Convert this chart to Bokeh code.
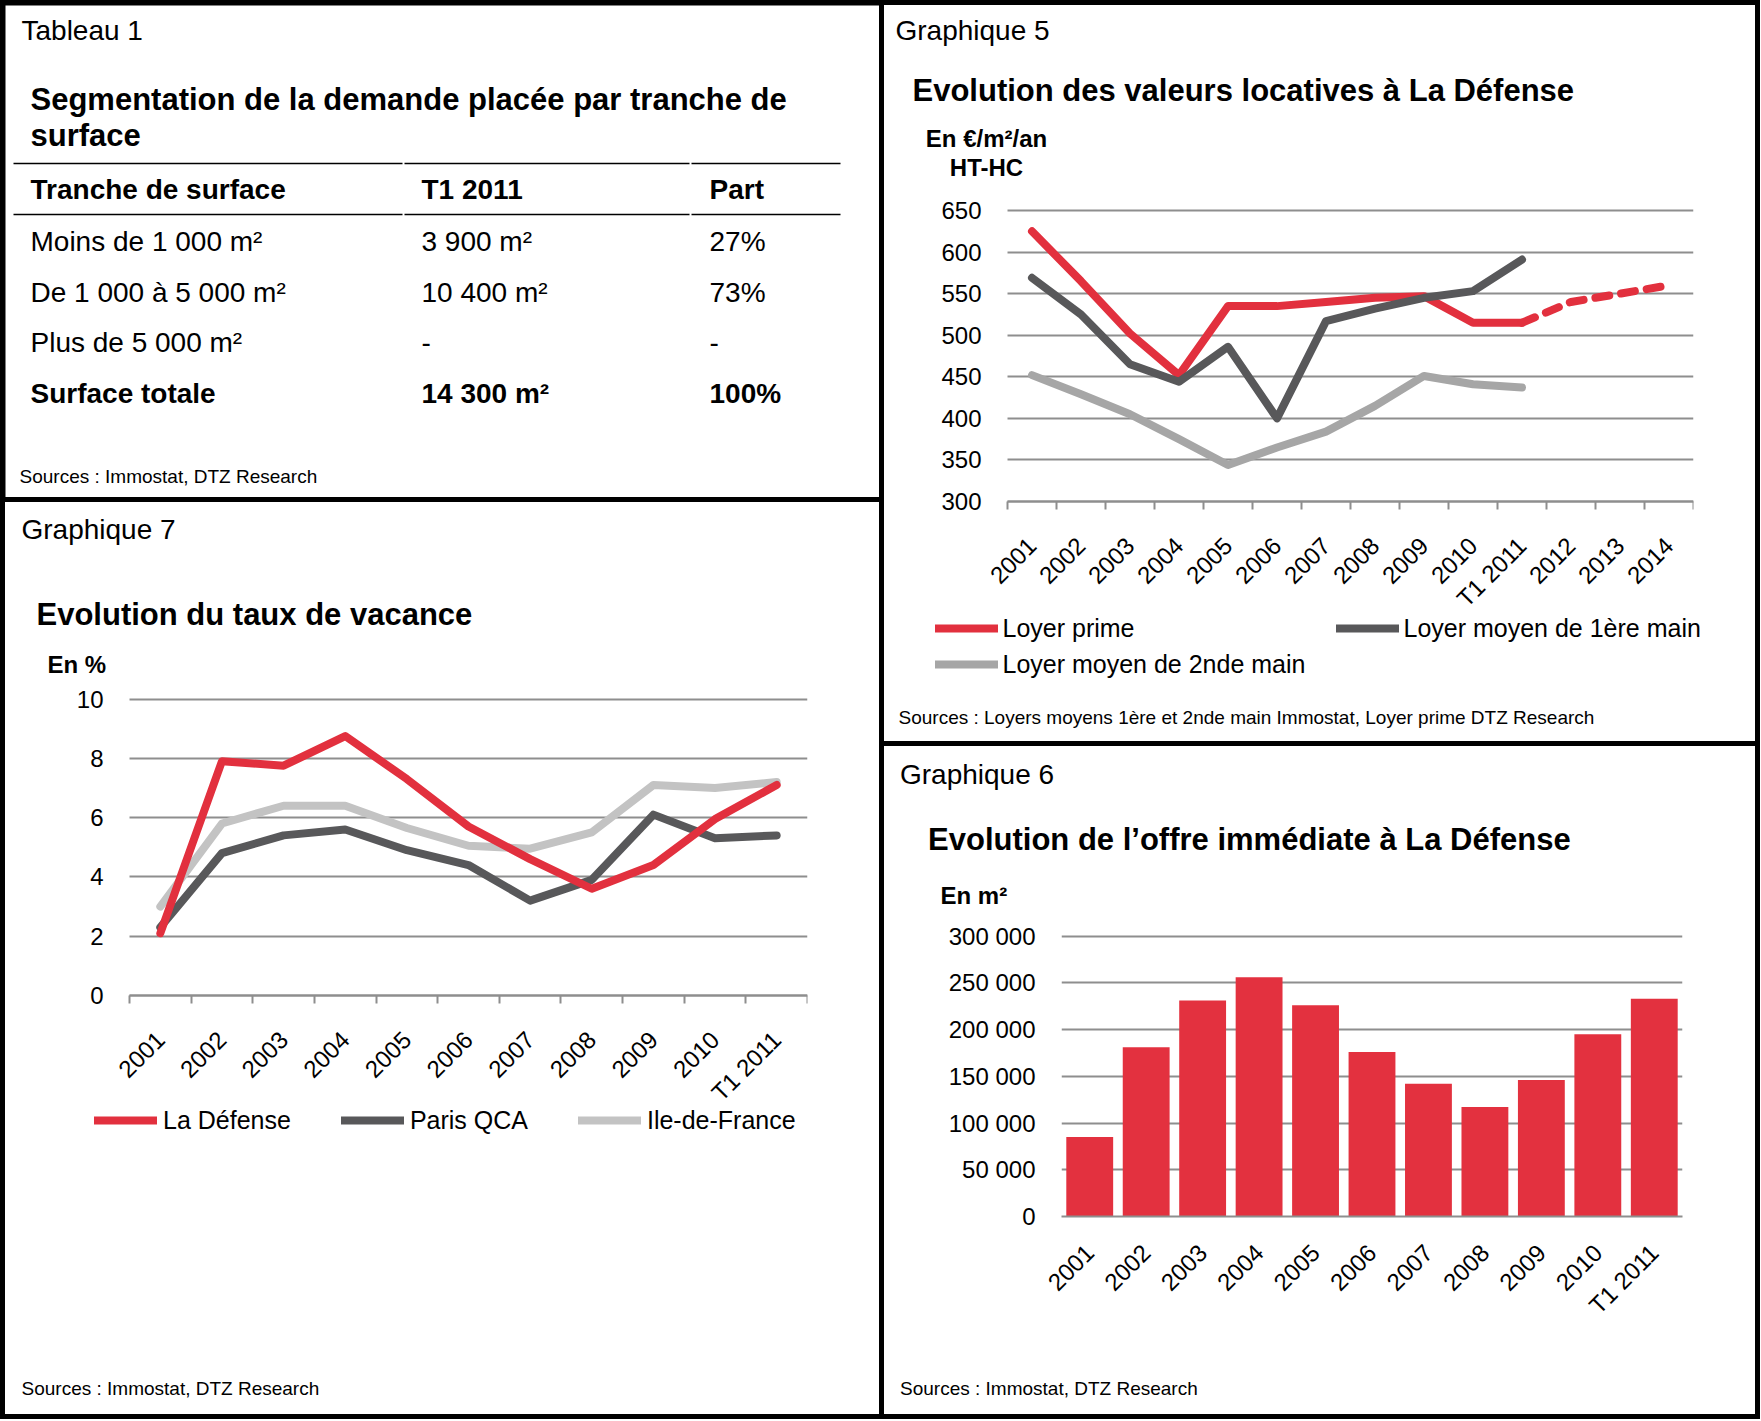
import math
from bokeh.plotting import figure
from bokeh.models import Range1d, FixedTicker, Legend, LegendItem
from bokeh.layouts import row, column
from bokeh.embed import file_html
from bokeh.resources import INLINE
from bokeh.core.properties import value

# ---------------- data ----------------
table_header = ["Tranche de surface", "T1 2011", "Part"]
table_tranches = ["Moins de 1 000 m²", "De 1 000 à 5 000 m²", "Plus de 5 000 m²"]
table_surfaces = ["3 900 m²", "10 400 m²", "-"]
table_parts = ["27%", "73%", "-"]
table_total = ["Surface totale", "14 300 m²", "100%"]

vac_years = ["2001", "2002", "2003", "2004", "2005", "2006", "2007", "2008", "2009", "2010", "T1 2011"]
vac_defense = [2.1, 7.9, 7.75, 8.75, 7.3, 5.7, 4.6, 3.6, 4.4, 5.95, 7.1]
vac_paris = [2.3, 4.8, 5.4, 5.6, 4.9, 4.4, 3.2, 3.9, 6.1, 5.3, 5.4]
vac_idf = [3.0, 5.8, 6.4, 6.4, 5.65, 5.05, 4.95, 5.5, 7.1, 7.0, 7.2]
vac_yticks = [0, 2, 4, 6, 8, 10]

loyer_years = ["2001", "2002", "2003", "2004", "2005", "2006", "2007", "2008", "2009", "2010",
               "T1 2011", "2012", "2013", "2014"]
loyer_prime = [625, 565, 502, 452, 535, 535, 540, 545, 547, 515, 515]
loyer_prime_prev_years = ["T1 2011", "2012", "2013", "2014"]
loyer_prime_prev = [515, 540, 550, 560]
loyer_1ere = [569, 525, 465, 444, 486, 400, 517, 532, 545, 553, 591]
loyer_2nde = [452, 429, 405, 375, 344, 365, 384, 415, 451, 441, 437]
loyer_yticks = [300, 350, 400, 450, 500, 550, 600, 650]

offre_years = ["2001", "2002", "2003", "2004", "2005", "2006", "2007", "2008", "2009", "2010", "T1 2011"]
offre_m2 = [85000, 181000, 231000, 256000, 226000, 176000, 142000, 117000, 146000, 195000, 233000]
offre_yticks = [0, 50000, 100000, 150000, 200000, 250000, 300000]
offre_ytick_labels = ["0", "50 000", "100 000", "150 000", "200 000", "250 000", "300 000"]

# ---------------- style ----------------
FONT = "Liberation Sans"
RED = "#E2303E"
BAR_RED = "#E3313F"
DARK = "#58585A"
LIGHT5 = "#A6A6A6"
LIGHT7 = "#C3C3C3"
GRID = "#8E8E8E"
LW = 8
XLAB_STANDOFF = 32
LEG_H = 30


def text_fig(w, h):
    p = figure(width=w, height=h, x_range=Range1d(0, w), y_range=Range1d(h, 0), title=None,
               x_axis_type=None, y_axis_type=None, output_backend="svg", toolbar_location=None,
               min_border=0, frame_align=False)
    p.outline_line_color = None
    p.border_fill_color = "white"
    p.background_fill_color = "white"
    p.grid.visible = False
    return p


def put(p, xs, ys, texts, size, bold=False, align="left"):
    p.text(x=xs, y=ys, text=texts, text_font=value(FONT), text_font_size=f"{size}px",
           text_font_style="bold" if bold else "normal", text_color="black",
           text_align=align, text_baseline="middle")


def chart_fig(w, h, ml, mr, mt, mb, x_start, nx, y_start, y_end, y_standoff=26):
    p = figure(width=w, height=h, x_range=Range1d(x_start, nx), y_range=Range1d(y_start, y_end),
               title=None, output_backend="svg", toolbar_location=None, frame_align=False,
               min_border_left=ml, min_border_right=mr, min_border_top=mt, min_border_bottom=mb)
    p.outline_line_color = None
    p.background_fill_color = "white"
    p.border_fill_color = "white"
    p.xgrid.visible = False
    p.ygrid.grid_line_color = GRID
    p.ygrid.grid_line_width = 2
    ya = p.yaxis[0]
    ya.axis_line_color = None
    ya.major_tick_line_color = None
    ya.minor_tick_line_color = None
    ya.major_tick_in = 0
    ya.major_tick_out = 0
    ya.minor_tick_in = 0
    ya.minor_tick_out = 0
    ya.major_label_standoff = y_standoff
    ya.major_label_text_font = FONT
    ya.major_label_text_font_size = "24px"
    ya.major_label_text_color = "black"
    xa = p.xaxis[0]
    xa.axis_line_color = GRID
    xa.axis_line_width = 2
    xa.major_tick_line_color = None
    xa.major_tick_in = 0
    xa.major_tick_out = 0
    xa.minor_tick_line_color = GRID
    xa.minor_tick_line_width = 2
    xa.minor_tick_in = 0
    xa.minor_tick_out = 8
    xa.major_label_orientation = math.pi / 4
    xa.major_label_text_font = FONT
    xa.major_label_text_font_size = "24px"
    xa.major_label_text_color = "black"
    xa.major_label_standoff = XLAB_STANDOFF
    return p


def set_x_categories(p, labels, boundary_ticks=True):
    centers = [i + 0.5 for i in range(len(labels))]
    bounds = [float(i) for i in range(len(labels) + 1)] if boundary_ticks else []
    p.xaxis[0].ticker = FixedTicker(ticks=centers, minor_ticks=bounds)
    p.xaxis[0].major_label_overrides = {c: lab for c, lab in zip(centers, labels)}
    return centers


def set_y_ticks(p, ticks, labels=None):
    p.yaxis[0].ticker = FixedTicker(ticks=ticks, minor_ticks=[])
    p.ygrid.ticker = FixedTicker(ticks=ticks, minor_ticks=[])
    if labels is not None:
        p.yaxis[0].major_label_overrides = {t: lab for t, lab in zip(ticks, labels)}


def legend_in(p, fig_h, entries, x_left, y_center, spacing, standoff):
    """entries: (label, color). Legend drawn inside a full-canvas text figure.
    The swatch renderers sit outside the visible range (legend keys only)."""
    items = []
    for lab, col in entries:
        r = p.line(x=[-60, -50], y=[-60, -60], line_color=col, line_width=LW, line_cap="round")
        items.append(LegendItem(label=value(lab), renderers=[r]))
    leg = Legend(items=items, location=(x_left, fig_h - y_center - LEG_H / 2),
                 orientation="horizontal", spacing=spacing,
                 glyph_width=63, glyph_height=LEG_H, label_height=LEG_H,
                 label_standoff=standoff, label_text_font=FONT, label_text_font_size="25px",
                 label_text_color="black", padding=0, margin=0, border_line_color=None,
                 background_fill_alpha=0)
    p.add_layout(leg)


PANEL_STYLE = {"background-color": "white"}

# ---------------- Tableau 1 ----------------
TW, TH = 874, 492
tab = text_fig(TW, TH)
col_x = [25, 416, 704]
put(tab, [16], [25], ["Tableau 1"], 28)
put(tab, [25, 25], [94, 130], ["Segmentation de la demande placée par tranche de", "surface"], 31, bold=True)
put(tab, col_x, [184] * 3, table_header, 28, bold=True)
for i, ry in enumerate([236, 287, 337]):
    put(tab, col_x, [ry] * 3, [table_tranches[i], table_surfaces[i], table_parts[i]], 28)
put(tab, col_x, [388] * 3, table_total, 28, bold=True)
put(tab, [14], [471], ["Sources : Immostat, DTZ Research"], 19)
for (a, b) in [(8, 397), (399, 684), (686, 835)]:
    tab.segment(x0=[a, a], y0=[158, 209], x1=[b, b], y1=[158, 209], line_color="black", line_width=1.5)

# ---------------- Graphique 7 ----------------
W7 = 874
h7 = text_fig(W7, 180)
put(h7, [16], [27], ["Graphique 7"], 28)
put(h7, [31], [112], ["Evolution du taux de vacance"], 31, bold=True)
put(h7, [42], [162], ["En %"], 24, bold=True)

# chart figure spans panel y 180..603; frame x 100..802 (categories start at 124),
# frame y 194..603; y=0 at 493, y=10 at 196.5
n7 = len(vac_years)
px7 = (493 - 196.5) / 10.0
cat7 = (802 - 124) / n7
c7 = chart_fig(W7, 423, 100, 72, 14, 0, -(124 - 100) / cat7, n7,
               -(603 - 493) / px7, 10 + (196.5 - 194) / px7, y_standoff=2)
c7.xaxis[0].fixed_location = 0
c7.xaxis[0].bounds = (0, n7)
c7.ygrid.cross_bounds = (0, n7)
xc7 = set_x_categories(c7, vac_years)
set_y_ticks(c7, vac_yticks)
c7.line(xc7, vac_idf, line_color=LIGHT7, line_width=LW, line_join="round", line_cap="round")
c7.line(xc7, vac_paris, line_color=DARK, line_width=LW, line_join="round", line_cap="round")
c7.line(xc7, vac_defense, line_color=RED, line_width=LW, line_join="round", line_cap="round")

f7 = text_fig(W7, 309)
legend_in(f7, 309, [("La Défense", RED), ("Paris QCA", DARK), ("Ile-de-France", LIGHT7)], 89, 15, 50, 6)
put(f7, [16], [283], ["Sources : Immostat, DTZ Research"], 19)

# ---------------- Graphique 5 ----------------
W5 = 871
h5 = text_fig(W5, 182)
put(h5, [11], [25], ["Graphique 5"], 28)
put(h5, [28], [85], ["Evolution des valeurs locatives à La Défense"], 31, bold=True)
put(h5, [102, 102], [133, 162], ["En €/m²/an", "HT-HC"], 24, bold=True, align="center")

# chart figure spans panel y 182..606; frame x 100..809 (categories start at 123),
# frame y 202..606; 300 at 496, 650 at 205
n5 = len(loyer_years)
px5 = (496 - 205) / 350.0
cat5 = (809 - 123) / n5
c5 = chart_fig(W5, 424, 100, 62, 20, 0, -(123 - 100) / cat5, n5,
               300 - (606 - 496) / px5, 650 + (205 - 202) / px5, y_standoff=3)
c5.xaxis[0].fixed_location = 300
c5.xaxis[0].bounds = (0, n5)
c5.ygrid.cross_bounds = (0, n5)
xc5 = set_x_categories(c5, loyer_years)
set_y_ticks(c5, loyer_yticks)
c5.line(xc5[:len(loyer_2nde)], loyer_2nde, line_color=LIGHT5, line_width=LW,
        line_join="round", line_cap="round")
c5.line(xc5[:len(loyer_prime)], loyer_prime, line_color=RED, line_width=LW,
        line_join="round", line_cap="round")
xprev = [loyer_years.index(y) + 0.5 for y in loyer_prime_prev_years]
c5.line(xprev, loyer_prime_prev, line_color=RED, line_width=LW, line_dash="14 12",
        line_join="round", line_cap="round")
c5.line(xc5[:len(loyer_1ere)], loyer_1ere, line_color=DARK, line_width=LW,
        line_join="round", line_cap="round")

f5 = text_fig(W5, 130)
legend_in(f5, 130, [("Loyer prime", RED), ("Loyer moyen de 1ère main", DARK)], 50.5, 17, 201, 5)
legend_in(f5, 130, [("Loyer moyen de 2nde main", LIGHT5)], 50.5, 53, 10, 5)
put(f5, [14], [105.5], ["Sources : Loyers moyens 1ère et 2nde main Immostat, Loyer prime DTZ Research"], 19)

# ---------------- Graphique 6 ----------------
W6 = 871
h6 = text_fig(W6, 170)
put(h6, [15.5], [28], ["Graphique 6"], 28)
put(h6, [43.6], [93], ["Evolution de l’offre immédiate à La Défense"], 31, bold=True)
put(h6, [56], [149], ["En m²"], 24, bold=True)

c6 = chart_fig(W6, 440, 177, 73, 16, 140, 0, len(offre_years), 0, 300000 * 284 / 280.5)
xc6 = set_x_categories(c6, offre_years, boundary_ticks=False)
set_y_ticks(c6, offre_yticks, offre_ytick_labels)
c6.xaxis[0].minor_tick_line_color = None
c6.xaxis[0].minor_tick_out = 0
c6.vbar(x=xc6, top=offre_m2, bottom=0, width=0.83, fill_color=BAR_RED, line_color=None)

f6 = text_fig(W6, 58)
put(f6, [15.5], [32], ["Sources : Immostat, DTZ Research"], 19)

left = column(tab, column(h7, c7, f7, spacing=0, styles=PANEL_STYLE), spacing=5)
right = column(column(h5, c5, f5, spacing=0, styles=PANEL_STYLE),
               column(h6, c6, f6, spacing=0, styles=PANEL_STYLE), spacing=5)
root = row(left, right, spacing=5, styles={"background-color": "black", "padding": "5px"})

open("out.html", "w").write(file_html(root, INLINE))
